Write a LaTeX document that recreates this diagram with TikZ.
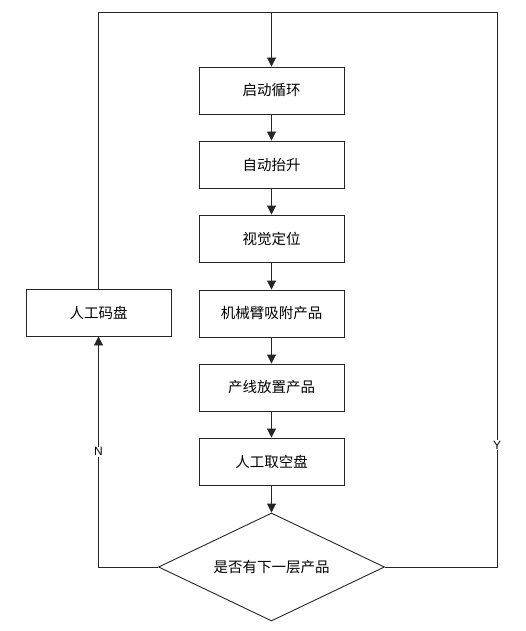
\documentclass[tikz,border=0pt]{standalone}
\usepackage{fontspec}
\setmainfont{Liberation Sans}
\newfontfamily\cjk{Noto Sans CJK SC}
\usetikzlibrary{shapes.geometric,arrows.meta}
\begin{document}
\begin{tikzpicture}[x=1pt,y=-1pt,
  box/.style={draw=black!85,line width=0.9pt,minimum width=145pt,minimum height=47pt,inner sep=0pt,font=\cjk\fontsize{14.5}{16}\selectfont},
  dec/.style={draw=black!85,line width=0.9pt,diamond,aspect=2.09,minimum width=226pt,minimum height=108pt,inner sep=0pt,font=\cjk\fontsize{14.5}{16}\selectfont},
  flow/.style={draw=black!85,line width=0.9pt,-{Triangle[length=9pt,width=9pt]}},
  ln/.style={draw=black!85,line width=0.9pt},
  lbl/.style={fill=white,inner sep=1pt,font=\fontsize{12}{13}\selectfont}]
\useasboundingbox (0,0) rectangle (526,631);
\node[box] (b1) at (271.5,90.5) {启动循环};
\node[box] (b2) at (271.5,164.5) {自动抬升};
\node[box] (b3) at (271.5,238.5) {视觉定位};
\node[box] (b4) at (271.5,313.5) {机械臂吸附产品};
\node[box] (b5) at (271.5,387.5) {产线放置产品};
\node[box] (b6) at (271.5,461.5) {人工取空盘};
\node[dec] (d) at (271.5,567) {是否有下一层产品};
\node[box] (m) at (98.5,312.5) {人工码盘};
\coordinate (tl) at (98.5,12);
\coordinate (tr) at (497,12);
\coordinate (tc) at (271.5,12);
\coordinate (bl) at (98.5,567);
\coordinate (br) at (497,567);
\draw[flow] (b1) -- (b2);
\draw[flow] (b2) -- (b3);
\draw[flow] (b3) -- (b4);
\draw[flow] (b4) -- (b5);
\draw[flow] (b5) -- (b6);
\draw[flow] (b6) -- (d);
\draw[flow] (d.west) -- (bl) -- node[lbl,pos=0.5] {N} (m.south);
\draw[ln] (d.east) -- (br) -- node[lbl,pos=0.22] {Y} (tr) -- (tc);
\draw[ln] (m.north) -- (tl) -- (tc);
\draw[flow] (tc) -- (b1);
\end{tikzpicture}
\end{document}
